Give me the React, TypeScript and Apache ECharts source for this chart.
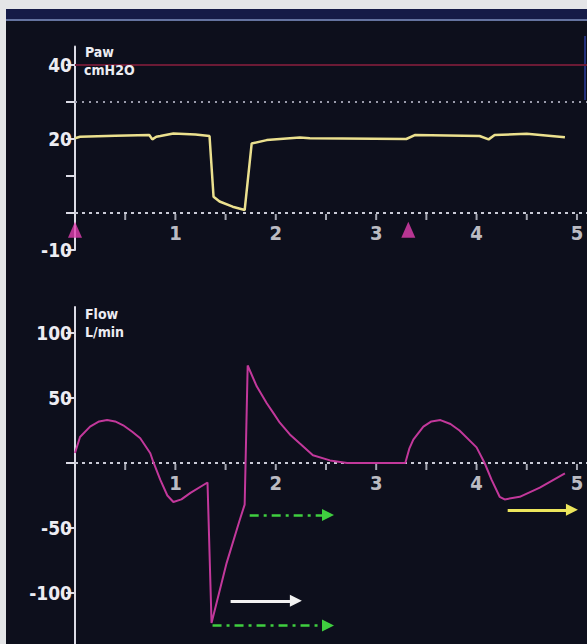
import React, { useEffect, useRef } from "react";
import * as echarts from "echarts";

// ---- data ----
// Airway pressure (time s, cmH2O)
const pawSamples: [number, number][] = [
  [0, 20.2], [0.05, 20.6], [0.4, 20.9], [0.74, 21.1], [0.77, 19.9], [0.81, 20.6],
  [0.85, 20.8], [0.98, 21.5], [1.2, 21.2], [1.34, 20.8], [1.38, 4.4], [1.44, 3.1],
  [1.57, 1.7], [1.69, 0.8], [1.76, 18.8], [1.91, 19.7], [2.24, 20.4], [2.34, 20.2],
  [3.3, 20.0], [3.39, 21.1], [4.03, 20.8], [4.12, 19.9], [4.18, 21.1], [4.5, 21.4],
  [4.88, 20.5],
];
// Flow (time s, L/min)
const flowSamples: [number, number][] = [
  [0, 7.7], [0.05, 20], [0.15, 28], [0.24, 32], [0.32, 33], [0.4, 32], [0.48, 29],
  [0.57, 24], [0.65, 19], [0.75, 7.5], [0.78, 0.8], [0.85, -13], [0.92, -25],
  [0.98, -30], [1.06, -28], [1.15, -23], [1.32, -15], [1.36, -123], [1.51, -77],
  [1.64, -44], [1.69, -32], [1.72, 75], [1.81, 59], [1.91, 46], [1.98, 38],
  [2.04, 31], [2.14, 22], [2.24, 15], [2.37, 6], [2.54, 2], [2.71, 0], [3.29, 0],
  [3.33, 11], [3.37, 18], [3.47, 28], [3.55, 32], [3.64, 33], [3.74, 30], [3.83, 25],
  [4.0, 12], [4.08, 0], [4.15, -13], [4.23, -26], [4.28, -28], [4.43, -26],
  [4.63, -19], [4.88, -8],
];
const triggerTimes = [0, 3.32];
const triggerLevel = -4.5;
const pawAlarmLimit = 40;
const pawDottedLevel = 30;

const pawTickValues = [-10, 0, 10, 20, 30, 40];
const pawLabelValues = [40, 20, -10];
const flowTickValues = [-100, -50, 0, 50, 100];
const flowLabelValues = [100, 50, -50, -100];
const timeTickValues = [0.5, 1, 1.5, 2, 2.5, 3, 3.5, 4, 4.5, 5];
const timeLabelValues = [1, 2, 3, 4, 5];

// annotation arrows on the flow panel: [start time, end time, flow level]
const greenArrows: [number, number, number][] = [
  [1.74, 2.52, -40],
  [1.37, 2.52, -125],
];
const whiteArrow: [number, number, number] = [1.55, 2.2, -106];
const yellowArrow: [number, number, number] = [4.31, 4.95, -36];

const FONT = '"Liberation Sans Narrow", "DejaVu Sans Condensed", "Roboto Condensed", sans-serif';
const AX = "#dcdce6";
const TXT = "#ececf2";
const ZERO = "#c9cad6";

export default function App() {
  const ref = useRef<HTMLDivElement>(null);
  useEffect(() => {
    if (!ref.current) return;
    const chart = echarts.init(ref.current, null, { renderer: "svg" });

    const xAxisBase = (gridIndex: number) => ({
      type: "value" as const,
      gridIndex,
      min: 0,
      max: 5.1,
      show: false,
      splitLine: { show: false },
    });

    const yAxisBase = (gridIndex: number, min: number, max: number, ticks: number[], labels: number[]) => ({
      type: "value" as const,
      gridIndex,
      min,
      max,
      splitLine: { show: false },
      axisLine: { show: true, onZero: false, lineStyle: { color: AX, width: 2 } },
      axisTick: { show: true, customValues: ticks, length: 9, lineStyle: { color: AX, width: 2 } },
      axisLabel: {
        show: true,
        customValues: labels,
        margin: 3,
        color: TXT,
        fontFamily: FONT,
        fontSize: 19,
        fontWeight: "bold",
      },
    });

    const arrowLine = (a: [number, number, number], color: string, width: number, type: any) => [
      { coord: [a[0], a[2]], lineStyle: { color, width, type } },
      { coord: [a[1], a[2]] },
    ];

    const text = (t: string, x: number, y: number) => ({
      type: "text",
      x,
      y,
      style: { text: t, fill: TXT, font: `bold 14px ${FONT}`, verticalAlign: "middle" },
      z: 10,
    });

    // time axis drawn on the zero line: ticks + labels as series in each panel
    const timeAxisSeries = (idx: number) => [
      {
        type: "scatter",
        xAxisIndex: idx,
        yAxisIndex: idx,
        silent: true,
        data: timeTickValues.map((t) => [t, 0]),
        symbol: "rect",
        symbolSize: [2, 6],
        symbolOffset: [0, 4],
        itemStyle: { color: ZERO },
        z: 3,
      },
      {
        type: "scatter",
        xAxisIndex: idx,
        yAxisIndex: idx,
        silent: true,
        data: timeLabelValues.map((t) => [t, 0]),
        symbol: "circle",
        symbolSize: 1,
        itemStyle: { color: "rgba(0,0,0,0)" },
        label: {
          show: true,
          position: "bottom",
          distance: 9,
          formatter: (p: any) => String(p.value[0]),
          color: TXT,
          fontFamily: FONT,
          fontSize: 20,
          fontWeight: "bold",
        },
        z: 3,
      },
    ];

    chart.setOption({
      animation: false,
      backgroundColor: "#e4e5e7",
      graphic: [
        { type: "rect", shape: { x: 6, y: 9, width: 581, height: 635 }, style: { fill: "#0d0f1c" }, z: 0 },
        { type: "rect", shape: { x: 6, y: 9, width: 581, height: 10 }, style: { fill: "#151b47" }, z: 0 },
        { type: "rect", shape: { x: 6, y: 19, width: 581, height: 2 }, style: { fill: "#6473a0" }, z: 0 },
        { type: "rect", shape: { x: 584, y: 36, width: 2, height: 64 }, style: { fill: "#24317c" }, z: 0 },
        text("Paw", 85, 52),
        text("cmH2O", 84, 70),
        text("Flow", 85, 314),
        text("L/min", 85, 332),
      ],
      grid: [
        { left: 75, top: 46.5, width: 512, height: 203.5, outerBoundsMode: "none", containLabel: false },
        { left: 75, top: 307, width: 512, height: 338, outerBoundsMode: "none", containLabel: false },
      ],
      xAxis: [xAxisBase(0), xAxisBase(1)],
      yAxis: [
        yAxisBase(0, -10, 45, pawTickValues, pawLabelValues),
        yAxisBase(1, -140, 120, flowTickValues, flowLabelValues),
      ],
      series: [
        {
          type: "line",
          name: "Paw",
          xAxisIndex: 0,
          yAxisIndex: 0,
          data: pawSamples,
          showSymbol: false,
          symbol: "none",
          lineStyle: { color: "#ebe08e", width: 2.5 },
          z: 5,
          markLine: {
            silent: true,
            symbol: ["none", "none"],
            label: { show: false },
            data: [
              { yAxis: pawAlarmLimit, lineStyle: { color: "#6b1a35", width: 2, type: "solid" } },
              { yAxis: pawDottedLevel, lineStyle: { color: "#9a9bab", width: 2, type: [2, 5] } },
              { yAxis: 0, lineStyle: { color: ZERO, width: 2, type: [3, 4] } },
            ],
          },
        },
        {
          type: "scatter",
          name: "trigger",
          xAxisIndex: 0,
          yAxisIndex: 0,
          data: triggerTimes.map((t) => [t, triggerLevel]),
          symbol: "triangle",
          symbolSize: [14, 16],
          itemStyle: { color: "#e23fb0" },
          z: 6,
        },
        ...timeAxisSeries(0),
        ...timeAxisSeries(1),
        {
          type: "line",
          name: "Flow",
          xAxisIndex: 1,
          yAxisIndex: 1,
          data: flowSamples,
          showSymbol: false,
          symbol: "none",
          lineStyle: { color: "#c2389b", width: 2 },
          z: 5,
          markLine: {
            silent: true,
            symbol: ["none", "triangle"],
            symbolSize: [12, 12],
            label: { show: false },
            data: [
              [
                { coord: [0, 0], lineStyle: { color: ZERO, width: 2, type: [3, 4] }, symbol: "none" },
                { coord: [5.1, 0], symbol: "none" },
              ],
              ...greenArrows.map((a) => arrowLine(a, "#3fcf3f", 2.5, [9, 5, 3, 5])),
              arrowLine(whiteArrow, "#f2f2f2", 3, "solid"),
              arrowLine(yellowArrow, "#ece55c", 3, "solid"),
            ],
          },
        },
      ],
    });
    return () => chart.dispose();
  }, []);
  return <div ref={ref} style={{ position: "fixed", left: 0, top: 0, width: 587, height: 644 }} />;
}
